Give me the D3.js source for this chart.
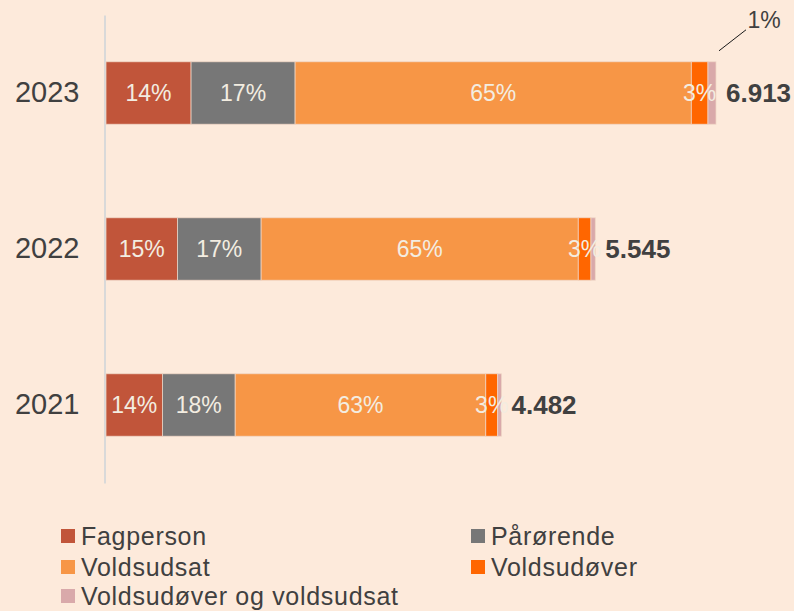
<!DOCTYPE html>
<html>
<head>
<meta charset="utf-8">
<script src="https://cdn.jsdelivr.net/npm/d3@7"></script>
<style>
  body { margin: 0; background: #fdeadb; }
  svg { display: block; font-family: "Liberation Sans", Arial, sans-serif; }
</style>
</head>
<body>
<div id="chart"></div>
<script>
    // data
    var years = ["2023", "2022", "2021"];
    var categories = ["Fagperson", "Pårørende", "Voldsudsat", "Voldsudøver", "Voldsudøver og voldsudsat"];
    var fagperson = [964, 809, 639];
    var paarorende = [1179, 949, 825];
    var voldsudsat = [4490, 3594, 2840];
    var voldsudover = [189, 144, 135];
    var begge = [91, 49, 43];
    var colors = ["#c1553a", "#777777", "#f79646", "#ff6600", "#d9a9aa"];

    var svgWidth = 794;
    var svgHeight = 611;

    var svg = d3.select("#chart")
        .append("svg")
        .attr("width", svgWidth)
        .attr("height", svgHeight);

    // build rows
    var rows = years.map(function(y, i) {
        var row = { year: y };
        row[categories[0]] = fagperson[i];
        row[categories[1]] = paarorende[i];
        row[categories[2]] = voldsudsat[i];
        row[categories[3]] = voldsudover[i];
        row[categories[4]] = begge[i];
        row.total = fagperson[i] + paarorende[i] + voldsudsat[i] + voldsudover[i] + begge[i];
        return row;
    });

    var stacked = d3.stack().keys(categories)(rows);

    var xScale = d3.scaleLinear()
        .domain([0, d3.max(rows, d => d.total)])
        .range([106, 716]);

    var yScale = d3.scaleBand()
        .domain(years)
        .range([15, 483])
        .paddingInner(0.6)
        .paddingOuter(0.3);

    var color = d3.scaleOrdinal().domain(categories).range(colors);

    var fmt = d3.formatLocale({ decimal: ",", thousands: ".", grouping: [3], currency: ["", " kr"] }).format(",d");

    // axis line
    var yAxis = d3.axisLeft(yScale).tickSize(0).tickPadding(25);
    var axisG = svg.append("g")
        .attr("transform", "translate(104.5,0)")
        .call(yAxis);
    axisG.select(".domain").attr("stroke", "#d9d9d9").attr("stroke-width", 2);
    axisG.selectAll("text")
        .attr("font-size", 29)
        .attr("fill", "#404040")
        .attr("font-family", "Liberation Sans, Arial, sans-serif");

    // bars
    var layers = svg.append("g").selectAll("g")
        .data(stacked)
        .enter()
        .append("g")
        .attr("fill", d => color(d.key));

    layers.selectAll("rect")
        .data(d => d)
        .enter()
        .append("rect")
        .attr("x", d => xScale(d[0]))
        .attr("y", d => yScale(d.data.year))
        .attr("width", d => xScale(d[1]) - xScale(d[0]))
        .attr("height", yScale.bandwidth())
        .attr("stroke", "#f0d6c6")
        .attr("stroke-width", 0.75);

    // percent labels inside bars (first four series)
    stacked.slice(0, 4).forEach(function(layer) {
        svg.append("g").selectAll("text")
            .data(layer)
            .enter()
            .append("text")
            .attr("x", d => (xScale(d[0]) + xScale(d[1])) / 2)
            .attr("y", d => yScale(d.data.year) + yScale.bandwidth() / 2)
            .attr("dy", "0.36em")
            .attr("text-anchor", "middle")
            .attr("font-size", 23)
            .attr("fill", "#f3ede1")
            .text(d => Math.round((d[1] - d[0]) / d.data.total * 100) + "%");
    });

    // 1% label with leader line for 2023
    var last = stacked[4][0];
    var lx = xScale(last[1]) + 3;
    var ly = yScale(last.data.year) - 11;
    svg.append("line")
        .attr("x1", lx)
        .attr("y1", ly)
        .attr("x2", lx + 27)
        .attr("y2", ly - 21)
        .attr("stroke", "#1a1a1a")
        .attr("stroke-width", 1);
    svg.append("text")
        .attr("x", lx + 45)
        .attr("y", ly - 31)
        .attr("dy", "0.36em")
        .attr("text-anchor", "middle")
        .attr("font-size", 23)
        .attr("fill", "#404040")
        .text(Math.round((last[1] - last[0]) / last.data.total * 100) + "%");

    // totals
    svg.append("g").selectAll("text")
        .data(rows)
        .enter()
        .append("text")
        .attr("x", d => xScale(d.total) + 10)
        .attr("y", d => yScale(d.year) + yScale.bandwidth() / 2)
        .attr("dy", "0.36em")
        .attr("font-size", 26)
        .attr("font-weight", "bold")
        .attr("fill", "#404040")
        .text(d => fmt(d.total));

    // legend
    var legendPos = [[61, 536], [471, 536], [61, 567], [471, 567], [61, 596]];
    var legend = svg.append("g").selectAll("g")
        .data(categories)
        .enter()
        .append("g")
        .attr("transform", (d, i) => `translate(${legendPos[i][0]}, ${legendPos[i][1]})`);

    legend.append("rect")
        .attr("x", 0)
        .attr("y", -7)
        .attr("width", 14)
        .attr("height", 14)
        .attr("fill", d => color(d));

    legend.append("text")
        .attr("x", 20)
        .attr("y", 0)
        .attr("dy", "0.36em")
        .attr("font-size", 25)
        .attr("letter-spacing", 0.7)
        .attr("fill", "#404040")
        .text(d => d);
</script>
</body>
</html>
